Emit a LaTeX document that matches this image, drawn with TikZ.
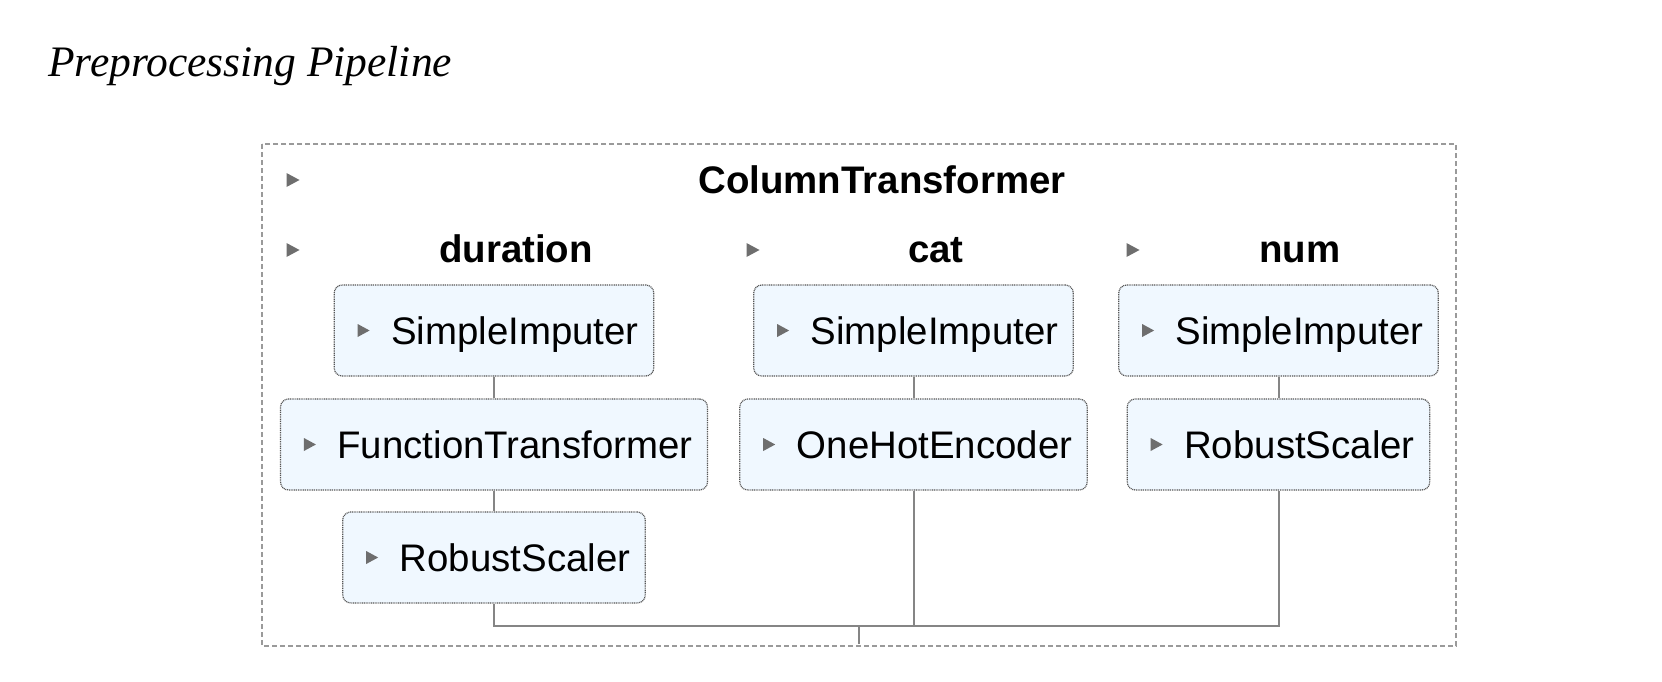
\documentclass[tikz,border=0pt]{standalone}
\usepackage{fontspec}
\setmainfont{Liberation Serif}
\newfontfamily\arialfont{Liberation Sans}
\usetikzlibrary{calc}
\definecolor{boxfill}{HTML}{F0F8FF}
\definecolor{boxborder}{HTML}{555555}
\definecolor{trigray}{HTML}{6E6E6E}
\definecolor{linegray}{HTML}{858585}
\definecolor{outergray}{HTML}{9A9A9A}
\tikzset{
  stepbox/.style={draw=boxborder, fill=boxfill, line width=1.2pt,
    dash pattern=on 1pt off 0.8pt, rounded corners=8pt,
    font=\arialfont\fontsize{38.4}{46}\selectfont,
    text height=28pt, text depth=0pt, minimum height=91pt,
    inner xsep=15pt, inner ysep=0pt},
  hdr/.style={font=\arialfont\bfseries\fontsize{38.4}{46}\selectfont, inner sep=0pt},
  conn/.style={draw=linegray, line width=2pt},
  tri/.style={fill=trigray}
}
\newcommand\boxtri[1]{\fill[tri] ([xshift=24pt,yshift=6.5pt]#1.west) -- ++(0,13) -- ++(12,-6.5) -- cycle;}
\newcommand\hdrtri[2]{\fill[tri] (#1-6.5,#2-7) -- ++(0,14) -- ++(13,-7) -- cycle;}
\begin{document}
\begin{tikzpicture}[x=1pt,y=-1pt]
\useasboundingbox (0,0) rectangle (1662,682);
% title
\node[anchor=base west, inner sep=0pt, font=\itshape\fontsize{43.5}{50}\selectfont] (title) at (48,77) {Preprocessing Pipeline};
% outer dashed frame
\draw[draw=outergray, line width=1.3pt, dash pattern=on 5pt off 3pt] (262,144) rectangle (1456,646);
% headers
\hdrtri{293}{180}
\node[hdr, anchor=base] (ct) at (882,193) {ColumnTransformer};
\hdrtri{293}{250}
\node[hdr, anchor=base] (hdur) at (516,262) {duration};
\hdrtri{753}{250}
\node[hdr, anchor=base] (hcat) at (936,262) {cat};
\hdrtri{1133}{250}
\node[hdr, anchor=base] (hnum) at (1300,262) {num};
% boxes
\node[stepbox] (dSI) at (494,330.5) {\hspace*{42pt}SimpleImputer};
\node[stepbox] (dFT) at (494,444.5) {\hspace*{42pt}FunctionTransformer};
\node[stepbox] (dRS) at (494,557.5) {\hspace*{42pt}RobustScaler};
\node[stepbox] (cSI) at (913.5,330.5) {\hspace*{42pt}SimpleImputer};
\node[stepbox] (cOH) at (913.5,444.5) {\hspace*{42pt}OneHotEncoder};
\node[stepbox] (nSI) at (1278.5,330.5) {\hspace*{42pt}SimpleImputer};
\node[stepbox] (nRS) at (1278.5,444.5) {\hspace*{42pt}RobustScaler};
\boxtri{dSI}\boxtri{dFT}\boxtri{dRS}
\boxtri{cSI}\boxtri{cOH}
\boxtri{nSI}\boxtri{nRS}
% connectors
\coordinate (bus) at (859,626);
\coordinate (out) at (859,644);
\draw[conn] (dSI.south) -- (dFT.north);
\draw[conn] (dFT.south) -- (dRS.north);
\draw[conn] (cSI.south) -- (cOH.north);
\draw[conn] (nSI.south) -- (nRS.north);
\draw[conn] (dRS.south) |- (bus) -| (nRS.south);
\draw[conn] (cOH.south) -- (cOH.south |- bus);
\draw[conn] (bus) -- (out);
\end{tikzpicture}
\end{document}
